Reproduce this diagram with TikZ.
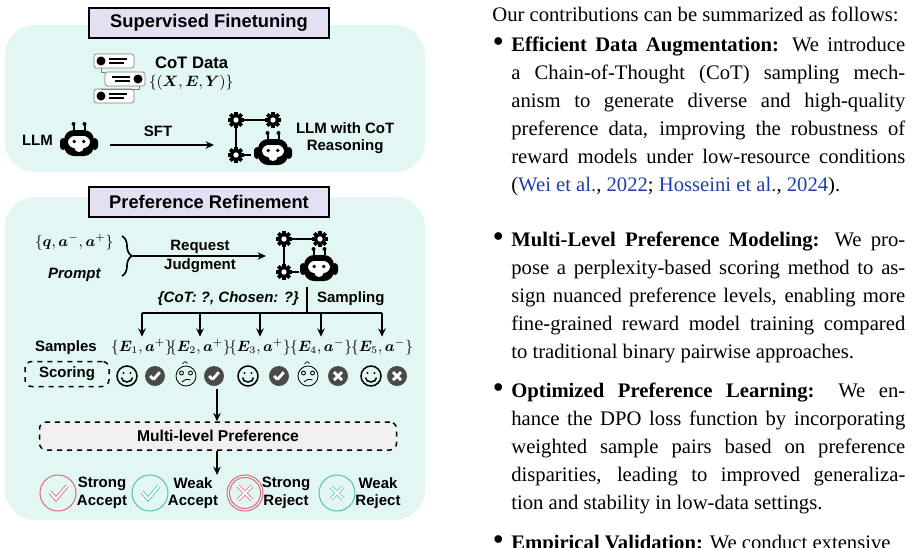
\documentclass[tikz,border=0pt]{standalone}
\usepackage{amsmath,amssymb,bm}
\usepackage{fontspec}
\setmainfont{Liberation Serif}
\setsansfont{Liberation Sans}
\usetikzlibrary{positioning,arrows.meta,decorations.pathreplacing}

\definecolor{panel}{HTML}{E2F6F3}
\definecolor{lavender}{HTML}{E4E0F4}
\definecolor{cite}{HTML}{1F3FA8}
\definecolor{redish}{HTML}{E06A78}
\definecolor{tealish}{HTML}{4FC4B8}
\definecolor{darkg}{HTML}{4A4A4A}

\tikzset{
  panel/.style={fill=panel, draw=none, rounded corners=18},
  title/.style={draw=black, line width=1.1pt, fill=lavender, minimum width=240*0.6pt, minimum height=30*0.6pt, font=\sffamily\bfseries\fontsize{11}{13}\selectfont},
  lbl/.style={font=\sffamily\bfseries\fontsize{9}{10.5}\selectfont, align=center, inner sep=1pt},
  mth/.style={font=\fontsize{8.8}{10}\selectfont, inner sep=1pt},
  arr/.style={-{Stealth[length=5pt,width=4.5pt]}, line width=1.1pt},
  dbox/.style={draw=black, dashed, line width=0.9pt, rounded corners=4, fill=#1},
  body/.style={font=\fontsize{12.4}{16.8}\selectfont},
  gear/.pic={
    \foreach \a in {0,45,...,315} \fill[black, rotate=\a] (-1.9,2.5) rectangle (1.9,8);
    \fill[black] circle (6);
    \fill[white] circle (2.7);
  },
  robot/.pic={
    \draw[black, line width=1.2pt] (-5.5,-13) -- (-5.5,-18) (5.5,-13) -- (5.5,-18);
    \fill[black] (-5.5,-19) circle (2) (5.5,-19) circle (2);
    \fill[black, rounded corners=2] (-19,-5) rectangle (-13,7);
    \fill[black, rounded corners=2] (13,-5) rectangle (19,7);
    \fill[black, rounded corners=6] (-15,-13) rectangle (15,13);
    \fill[white, rounded corners=4] (-11,-7) rectangle (11,5);
    \fill[black] (-4.8,-1.5) circle (1.9) (4.8,-1.5) circle (1.9);
    \fill[white] (-4.5,5) arc (180:0:4.5 and 4) -- cycle;
  },
  smiley/.pic={
    \draw[black, line width=0.9pt] circle (10);
    \fill[black] (-3.5,-3) circle (1.1) (3.5,-3) circle (1.1);
    \draw[black, line width=0.9pt] (-5.5,1.5) arc (180:0:5.5 and 4.5);
  },
  meh/.pic={
    \draw[black, line width=0.5pt] circle (10);
    \draw[black, line width=0.5pt] (-4.5,-3) circle (2) (4.5,-3) circle (2);
    \draw[black, line width=0.5pt] (-4,6) .. controls (0,3) .. (4.5,4);
    \draw[black, line width=0.4pt] (-3.5,-12) .. controls (-1,-15) .. (1.5,-12.5);
  },
  yes/.pic={
    \fill[darkg] circle (10);
    \draw[white, line width=1.7pt] (-4.8,0) -- (-1.5,3.5) (-1.5,3.5) -- (4.8,-3.8);
  },
  no/.pic={
    \fill[darkg] circle (10);
    \draw[white, line width=1.7pt] (-4,-4) -- (4,4) (-4,4) -- (4,-4);
  },
  okmark/.style={double=white, draw=#1, double distance=1.3pt, line width=0.5pt},
}

\begin{document}
\begin{tikzpicture}[x=0.6pt, y=-0.6pt]
    \useasboundingbox (0,0) rectangle (914,547);

    % Supervised finetuning panel
    \fill[panel] (5,25) rectangle (425,172);
    \node[title] (sft) at (209,23) {Supervised Finetuning};

    % CoT data icon
    \foreach \y/\x/\s in {61/94/1, 79/105/-1, 96/94/1} {
        \draw[gray, fill=white, rounded corners=1.5, line width=0.4pt] (\x,\y-7) rectangle (\x+40,\y+7);
        \fill[black] (\x+20-\s*13,\y) circle (4.5);
        \fill[black] (\x+20-\s*5,\y-2.6) rectangle (\x+20+\s*13,\y-0.6);
        \fill[black] (\x+20-\s*5,\y+1.2) rectangle (\x+20+\s*10,\y+3.2);
    }
    \draw[gray, line width=0.4pt] (101,68) -- (101,72) -- (105,72) (139,86) -- (139,89) -- (101,89);
    \node[lbl, anchor=west, font=\sffamily\bfseries\fontsize{10}{12}\selectfont] (cot) at (153,63) {CoT Data};
    \node[mth, anchor=west] (cotset) at (147,83) {$\{(\bm{X},\bm{E},\bm{Y})\}$};

    % LLM -> LLM with CoT
    \node[lbl, anchor=west] (llm) at (20,140) {LLM};
    \pic at (79,143) {robot};
    \coordinate (sfts) at (110,145);
    \coordinate (sfte) at (214,145);
    \draw[arr] (sfts) -- (sfte);
    \node[lbl] (sftlbl) at (158,131) {SFT};
    \coordinate (g1) at (236,120);
    \coordinate (g2) at (273,120);
    \coordinate (g3) at (236,155);
    \draw[line width=0.8pt] (g1) -- (g2) (g1) -- (g3) (g3) -- ++(15,0);
    \pic at (g1) {gear}; \pic at (g2) {gear}; \pic at (g3) {gear};
    \pic at (273,152) {robot};
    \node[lbl, anchor=west] (cotllm) at (294,138) {LLM with CoT\\Reasoning};

    % Preference refinement panel
    \fill[panel] (5,197) rectangle (425,520);
    \node[title] (pref) at (209,202) {Preference Refinement};

    \node[mth, anchor=west] (qset) at (33,242) {$\{\bm{q},\bm{a}^{-},\bm{a}^{+}\}$};
    \node[lbl, anchor=west, font=\sffamily\bfseries\itshape\fontsize{9}{10.5}\selectfont] (prompt) at (46,275) {Prompt};
    \draw[line width=1pt, decorate, decoration={brace, amplitude=6pt}] (122,236) -- (122,276);
    \coordinate (reqs) at (133,256);
    \coordinate (reqe) at (266,256);
    \draw[arr] (reqs) -- (reqe);
    \node[lbl] (req) at (200,247) {Request};
    \node[lbl] (judge) at (200,266) {Judgment};
    \coordinate (h1) at (284,239);
    \coordinate (h2) at (320,239);
    \coordinate (h3) at (284,272);
    \draw[line width=0.8pt] (h1) -- (h2) (h1) -- (h3) (h3) -- ++(15,0);
    \pic at (h1) {gear}; \pic at (h2) {gear}; \pic at (h3) {gear};
    \pic at (319,268) {robot};

    % sampling tree
    \coordinate (top) at (307,287);
    \coordinate (hub) at (307,313);
    \draw[line width=1.1pt] (top) -- (hub);
    \node[lbl, anchor=east, font=\sffamily\bfseries\itshape\fontsize{9}{10.5}\selectfont] (query) at (301,299) {\{CoT: ?, Chosen: ?\}};
    \node[lbl, anchor=west] (samp) at (315,299) {Sampling};
    \draw[line width=1.1pt] (142,313) -- (382,313);
    \node[lbl, anchor=west] (samples) at (33,348) {Samples};
    \foreach \x/\i/\s [count=\k] in {142/1/+, 200/2/+, 260/3/+, 321/4/-, 382/5/-} {
        \node[mth] (s\k) at (\x,347) {$\{\bm{E}_{\i},\bm{a}^{\s}\}$};
        \draw[arr] (\x,313) -- (s\k.north);
    }
    \node[dbox=panel, lbl, minimum width=84*0.6pt, minimum height=25*0.6pt] (score) at (67,374) {Scoring};
    \pic at (127,376) {smiley};
    \pic at (186,376) {meh};
    \pic at (248,376) {smiley};
    \pic at (308,376) {meh};
    \pic at (371,376) {smiley};
    \pic at (155,376) {yes};
    \pic at (214,376) {yes};
    \pic at (279,376) {yes};
    \pic at (338,376) {no};
    \pic at (397,376) {no};
    \coordinate (sc) at (217,389);

    \node[dbox={black!6}, lbl, minimum width=357*0.6pt, minimum height=28*0.6pt, font=\sffamily\bfseries\fontsize{9.4}{11}\selectfont] (multi) at (218,436) {Multi-level Preference};
    \draw[arr] (sc) -- (multi.north -| sc);
    \coordinate (out) at (217,475);
    \draw[arr] (multi.south -| out) -- (out);

    % outcome classes
    \draw[redish, line width=0.6pt] (58,493) circle (18);
    \draw[okmark=redish] (50,492) -- (56,499) -- (67,486);
    \node[lbl] (sa) at (102,493) {Strong\\Accept};
    \draw[tealish, line width=0.6pt] (150,493) circle (18);
    \draw[okmark=tealish] (142,492) -- (148,499) -- (159,486);
    \node[lbl] (wa) at (193,493) {Weak\\Accept};
    \draw[redish, line width=0.6pt] (245,493) circle (18) circle (15.5);
    \draw[okmark=redish] (238,486) -- (252,500) (238,500) -- (252,486);
    \node[lbl] (sr) at (286,493) {Strong\\Reject};
    \draw[tealish, line width=0.6pt] (337,493) circle (18);
    \draw[okmark=tealish] (331,487) -- (343,499) (331,499) -- (343,487);
    \node[lbl] (wr) at (378,493) {Weak\\Reject};

    % right column text
    \node[anchor=north west, inner sep=0pt, body] (intro) at (492,7) {Our contributions can be summarized as follows:};
    \foreach \y/\body in {
        37/{\textbf{Efficient Data Augmentation:} We introduce\linebreak a Chain-of-Thought (CoT) sampling mech-\linebreak anism to generate diverse and high-quality\linebreak preference data, improving the robustness of\linebreak reward models under low-resource conditions\linebreak (\textcolor{cite}{Wei et al.}, \textcolor{cite}{2022}; \textcolor{cite}{Hosseini et al.}, \textcolor{cite}{2024}).},
        232/{\textbf{Multi-Level Preference Modeling:} We pro-\linebreak pose a perplexity-based scoring method to as-\linebreak sign nuanced preference levels, enabling more\linebreak fine-grained reward model training compared\linebreak to traditional binary pairwise approaches.},
        383/{\textbf{Optimized Preference Learning:} We en-\linebreak hance the DPO loss function by incorporating\linebreak weighted sample pairs based on preference\linebreak disparities, leading to improved generaliza-\linebreak tion and stability in low-data settings.},
        535/{\textbf{Empirical Validation:} We conduct extensive}} {
        \node[anchor=north west, inner sep=0pt, body] at (493,\y) {$\bullet$};
        \node[anchor=north west, inner sep=0pt, text width=394*0.6pt, align=justify, body] at (511,\y) {\body};
    }
\end{tikzpicture}
\end{document}
